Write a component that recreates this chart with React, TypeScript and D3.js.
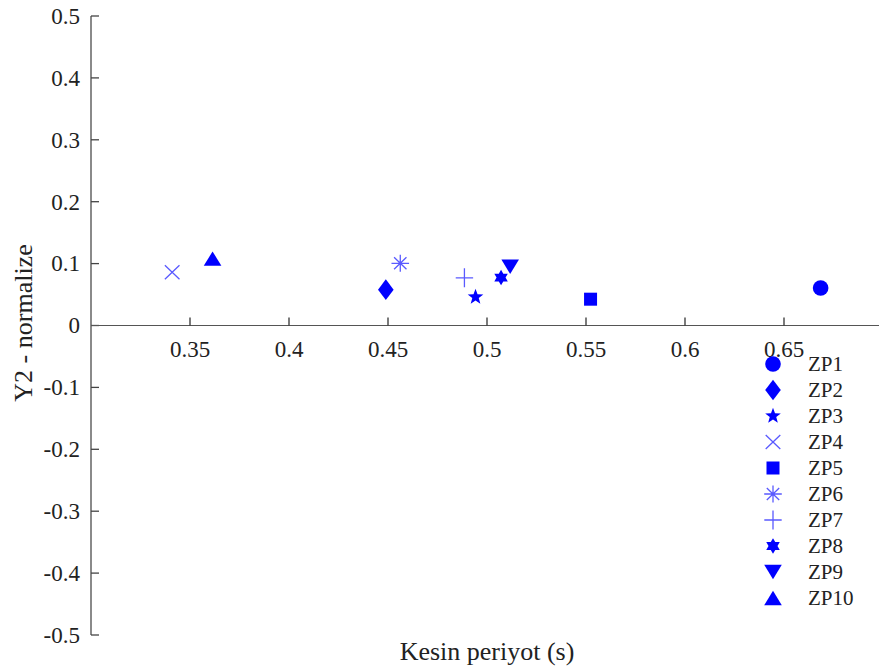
import React from "react";
import * as d3 from "d3";

const names = ["ZP1", "ZP2", "ZP3", "ZP4", "ZP5", "ZP6", "ZP7", "ZP8", "ZP9", "ZP10"];
const periods = [0.6685, 0.4489, 0.4942, 0.341, 0.5523, 0.4562, 0.4886, 0.5071, 0.5117, 0.3614];
const y2Values = [0.0606, 0.0579, 0.046, 0.086, 0.0425, 0.1005, 0.077, 0.0775, 0.095, 0.108];
const markers = ["circle", "diamond", "star", "x", "square", "asterisk", "plus", "hexagram", "tridown", "triup"];
const xTicks = [0.35, 0.4, 0.45, 0.5, 0.55, 0.6, 0.65];
const yTicks = [-0.5, -0.4, -0.3, -0.2, -0.1, 0, 0.1, 0.2, 0.3, 0.4, 0.5];

const W = 879;
const H = 670;
const BLUE = "#0000ff";
const LIGHT = "#5a5aff";
const FONT = '"Liberation Serif", Tinos, "Times New Roman", "DejaVu Serif", serif';

function starPath(outer: number, inner: number, n: number, rot: number) {
  const pts: [number, number][] = [];
  for (let i = 0; i < n * 2; i++) {
    const r = i % 2 === 0 ? outer : inner;
    const a = rot + (i * Math.PI) / n;
    pts.push([r * Math.cos(a), r * Math.sin(a)]);
  }
  return "M" + pts.map((p) => p[0].toFixed(2) + "," + p[1].toFixed(2)).join("L") + "Z";
}

function Marker({ kind, x, y }: { kind: string; x: number; y: number }) {
  const t = `translate(${x},${y})`;
  switch (kind) {
    case "circle":
      return <circle cx={x} cy={y} r={7.8} fill={BLUE} />;
    case "diamond":
      return <path transform={t} d="M0,-10.3L7.8,0L0,10.3L-7.8,0Z" fill={BLUE} />;
    case "star":
      return <path transform={t} d={starPath(8.2, 3.4, 5, -Math.PI / 2)} fill={BLUE} />;
    case "x":
      return <path transform={t} d="M-7.3,-7L7.3,7M-7.3,7L7.3,-7" stroke={LIGHT} strokeWidth={1.3} fill="none" />;
    case "square":
      return <rect x={x - 6.5} y={y - 6.5} width={13} height={13} fill={BLUE} />;
    case "asterisk":
      return (
        <path
          transform={t}
          d="M-8.8,0L8.8,0M0,-8.5L0,8.5M-6.2,-6L6.2,6M-6.2,6L6.2,-6"
          stroke={LIGHT}
          strokeWidth={1.3}
          fill="none"
        />
      );
    case "plus":
      return <path transform={t} d="M-8.7,0L8.7,0M0,-9.5L0,9.5" stroke={LIGHT} strokeWidth={1.3} fill="none" />;
    case "hexagram":
      return <path transform={t} d={starPath(7.8, 4.5, 6, -Math.PI / 2)} fill={BLUE} />;
    case "tridown":
      return <path transform={t} d="M-8.8,-7.3L8.8,-7.3L0,7.3Z" fill={BLUE} />;
    case "triup":
      return <path transform={t} d="M-8.8,7.2L8.8,7.2L0,-7.2Z" fill={BLUE} />;
  }
  return null;
}

export default function App() {
  const x = d3.scaleLinear().domain([0.3, 0.7]).range([91, 883]);
  const y = d3.scaleLinear().domain([-0.5, 0.5]).range([635, 16]);
  const x0 = x(0.3);
  const y0 = y(0);
  const legendX = 773;
  const legendY = d3.scaleLinear().domain([0, 9]).range([364, 598]);
  const ts = { fontFamily: FONT };

  return (
    <svg
      width={W}
      height={H}
      style={{ position: "absolute", left: 0, top: 0, background: "#fff", fontFamily: FONT }}
    >
      <rect width={W} height={H} fill="#fff" />
      {/* y axis */}
      <line x1={x0} x2={x0} y1={y(0.5)} y2={y(-0.5)} stroke="#8a8a8a" strokeWidth={2} />
      {yTicks.map((v) => (
        <g key={"y" + v}>
          <line x1={x0} x2={x0 + 8} y1={y(v)} y2={y(v)} stroke="#444" strokeWidth={1.3} />
          <text x={80} y={y(v)} dy="0.34em" textAnchor="end" fontSize={23} fill="#222" style={ts}>
            {String(v)}
          </text>
        </g>
      ))}
      {/* x axis */}
      <line x1={x0} x2={W} y1={y0} y2={y0} stroke="#555" strokeWidth={1.2} />
      {xTicks.map((v) => (
        <g key={"x" + v}>
          <line x1={x(v)} x2={x(v)} y1={y0} y2={y0 - 8} stroke="#333" strokeWidth={1.3} />
          <text x={x(v)} y={357} textAnchor="middle" fontSize={23} fill="#222" style={ts}>
            {String(v)}
          </text>
        </g>
      ))}
      <text x={487} y={660} textAnchor="middle" fontSize={26} fill="#222" style={ts}>
        Kesin periyot (s)
      </text>
      <text
        transform={`translate(32,323) rotate(-90)`}
        textAnchor="middle"
        fontSize={26}
        fill="#222"
        style={ts}
      >
        Y2 - normalize
      </text>
      {/* points */}
      {names.map((n, i) => (
        <Marker key={n} kind={markers[i]} x={x(periods[i])} y={y(y2Values[i])} />
      ))}
      {/* legend */}
      {names.map((n, i) => (
        <g key={"l" + n}>
          <Marker kind={markers[i]} x={legendX} y={legendY(i)} />
          <text x={808} y={legendY(i)} dy="0.34em" fontSize={21} fill="#222" style={ts}>
            {n}
          </text>
        </g>
      ))}
    </svg>
  );
}
